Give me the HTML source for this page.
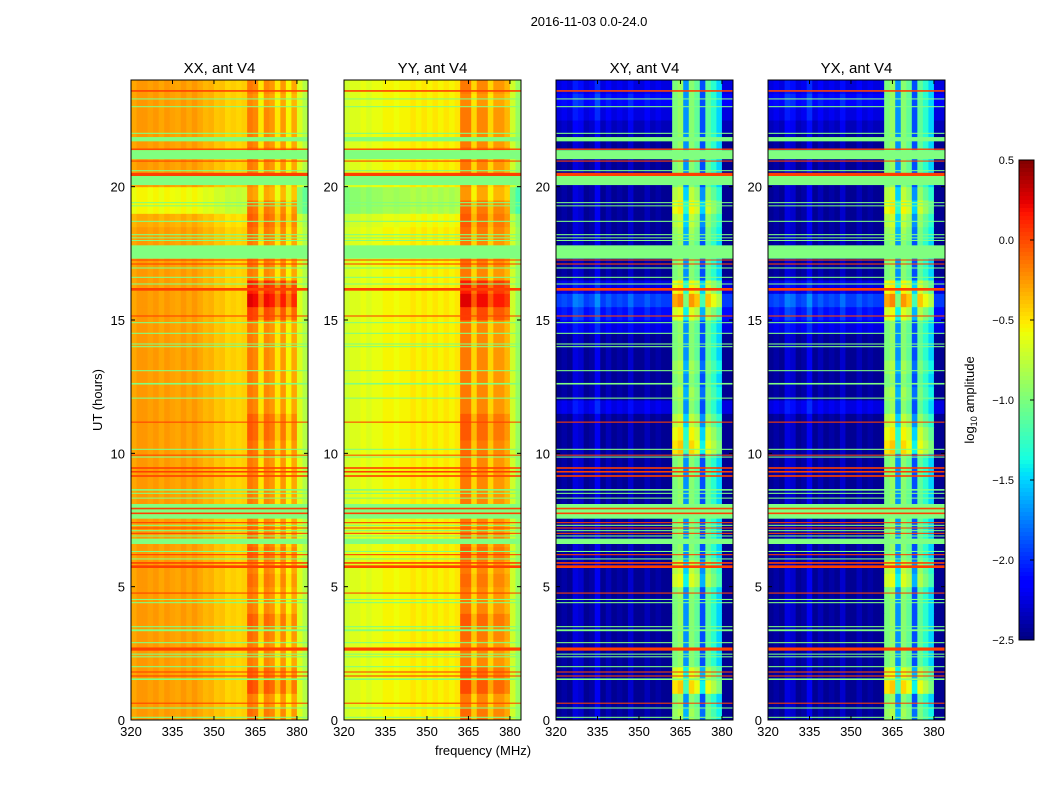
<!DOCTYPE html>
<html><head><meta charset="utf-8"><style>
body{margin:0;background:#fff;width:1050px;height:800px;overflow:hidden;font-family:"Liberation Sans",sans-serif;}
svg text{font-family:"Liberation Sans",sans-serif;}
</style></head><body>
<svg id="fig" width="1050" height="800" xmlns="http://www.w3.org/2000/svg">
<text x="589" y="26" font-size="13" text-anchor="middle">2016-11-03 0.0-24.0</text>
<text x="0" y="0" font-size="13" text-anchor="middle" transform="translate(102,400) rotate(-90)">UT (hours)</text>
<text x="483" y="755" font-size="13" text-anchor="middle">frequency (MHz)</text>
<text font-size="13" text-anchor="middle" transform="translate(974,400) rotate(-90)">log<tspan font-size="9" dy="3">10</tspan><tspan dy="-3"> amplitude</tspan></text>
<g id="panels"></g>
<g id="cbar"></g>
</svg>
<script>
const panelTitles = ["XX, ant V4","YY, ant V4","XY, ant V4","YX, ant V4"];
const xTicks = [320,335,350,365,380];
const yTicks = [0,5,10,15,20];
const cbarTicks = [0.5,0.0,-0.5,-1.0,-1.5,-2.0,-2.5];
const cbarTickLabels = ["0.5","0.0","\u22120.5","\u22121.0","\u22121.5","\u22122.0","\u22122.5"];
// column values (2 MHz bins from 320 to 384)
const colsXX = [-0.3,-0.25,-0.25,-0.28,-0.25,-0.3,-0.25,-0.28,-0.3,-0.25,-0.3,-0.25,-0.3,-0.35,-0.33,-0.4,-0.38,-0.45,-0.42,-0.45,-0.42,-0.15,-0.2,-0.5,-0.2,-0.25,-0.5,-0.25,-0.55,-0.3,-0.65,-0.8];
const colsYY = [-0.7,-0.65,-0.65,-0.6,-0.65,-0.6,-0.6,-0.55,-0.55,-0.58,-0.55,-0.55,-0.5,-0.55,-0.5,-0.55,-0.5,-0.55,-0.5,-0.55,-0.5,-0.15,-0.15,-0.45,-0.2,-0.2,-0.45,-0.25,-0.25,-0.35,-0.7,-0.9];
const colsXY = [-2.45,-2.4,-2.45,-2.25,-2.3,-2.45,-2.4,-2.2,-2.45,-2.35,-2.45,-2.4,-2.45,-2.3,-2.45,-2.45,-2.35,-2.45,-2.4,-2.45,-2.45,-1.0,-0.9,-1.7,-0.95,-1.1,-1.9,-1.1,-1.3,-1.5,-2.45,-2.45];
const colsYX = [-2.45,-2.4,-2.45,-2.25,-2.3,-2.45,-2.4,-2.2,-2.45,-2.35,-2.45,-2.4,-2.45,-2.3,-2.45,-2.45,-2.35,-2.45,-2.4,-2.45,-2.45,-1.0,-0.9,-1.7,-0.95,-1.1,-1.9,-1.1,-1.3,-1.5,-2.45,-2.45];
// row offsets (half-hour rows from 0 to 24h): band = applied to RFI band bins, base = others
const rowBandPar = [0.05,0,0.15,0.1,0,0,0.05,0.1,0,0,0.05,0,0.1,0.05,0,0,0,0,0,0,0.05,0.1,0.1,0,0,0,0,0,0,0,0.2,0.4,0.3,0,0.05,0,0.05,0.1,0.05,-0.1,-0.05,0,0.05,0,0,0,-0.05,0];
const rowBasePar = [0,0,0,0,0,0,0,0,0,0,0,0,0,0,0,0,0,0,0,0,0,0,0,0,0,0,0,0,0,0,0,0,0,0,0,0,0,-0.05,-0.3,-0.3,0,0,0,0,0,0,0,0];
const rowBandCross = [0.1,0,0.5,0.3,0,0,0,0,0,0,0.3,0.2,0,0,0,0,0,0,0,0,0.5,0.4,0.2,0,0.1,0,0.1,0,0,0,0.3,0.7,0.4,0,0,0,0.1,0.2,0.4,0.2,0,0,0,0,0,0,0,0];
const rowBaseCross = [0,0,0,0,0,0,0,0,0,0,0,0,0,0,0,0,0,0,0,0,0,0,0,0.2,0,0,0,0,0,0.2,0.35,0.5,0.2,0,0,0,0,0,0,0,0,0,0,0,0.1,0.2,0.3,0.2];
// flagged time ranges [start hour, end hour, type]
const flags = [[23.56,23.62,'r'],[23.27,23.31,'g'],[22.98,23.02,'g'],[21.98,22.02,'g'],[21.7,21.86,'g'],[21.38,21.43,'r'],[21.03,21.37,'g'],[20.94,20.98,'r'],[20.58,20.62,'g'],[20.4,20.52,'r'],[20.06,20.4,'g'],[19.38,19.42,'g'],[19.27,19.3,'g'],[18.68,18.72,'g'],[18.18,18.22,'g'],[18.07,18.1,'g'],[17.97,18.0,'g'],[17.3,17.8,'g'],[17.23,17.27,'r'],[17.08,17.12,'r'],[16.93,16.97,'g'],[16.58,16.62,'g'],[16.33,16.37,'g'],[16.1,16.2,'r'],[15.13,15.17,'r'],[14.88,14.92,'g'],[14.48,14.52,'g'],[14.08,14.12,'g'],[13.98,14.02,'g'],[13.08,13.12,'g'],[12.58,12.64,'g'],[12.05,12.09,'g'],[11.15,11.19,'r'],[10.13,10.17,'g'],[9.92,9.95,'r'],[9.84,9.88,'g'],[9.42,9.48,'r'],[9.28,9.34,'r'],[9.12,9.18,'r'],[8.6,8.66,'g'],[8.48,8.52,'g'],[8.3,8.34,'g'],[7.55,8.1,'g'],[7.9,7.96,'r'],[7.72,7.78,'r'],[7.38,7.42,'r'],[7.28,7.32,'g'],[7.18,7.22,'r'],[7.08,7.12,'g'],[6.98,7.02,'r'],[6.88,6.92,'g'],[6.6,6.8,'g'],[6.3,6.34,'g'],[6.18,6.22,'r'],[6.02,6.06,'g'],[5.86,5.92,'r'],[5.7,5.8,'r'],[4.74,4.78,'r'],[4.5,4.54,'g'],[4.38,4.42,'g'],[3.48,3.52,'g'],[3.33,3.4,'g'],[2.88,2.92,'g'],[2.6,2.72,'r'],[2.45,2.49,'g'],[2.35,2.39,'g'],[1.98,2.02,'g'],[1.78,1.82,'r'],[1.63,1.67,'r'],[1.5,1.56,'g'],[0.61,0.65,'r'],[0.43,0.47,'g'],[0.08,0.12,'g']];
const panelCols = [colsXX,colsYY,colsXY,colsYX];
const panelRowBand = [rowBandPar,rowBandPar,rowBandCross,rowBandCross];
const panelRowBase = [rowBasePar,rowBasePar,rowBaseCross,rowBaseCross];

const NS="http://www.w3.org/2000/svg";
const lefts=[131,344,556,768], W=177, TOP=80, H=640;
const vmin=-2.5,vmax=0.5, fmin=320,fmax=384, tmax=24;
function interp(pts,t){for(let i=1;i<pts.length;i++){if(t<=pts[i][0]){const a=pts[i-1],b=pts[i];return a[1]+(b[1]-a[1])*(t-a[0])/(b[0]-a[0]);}}return pts[pts.length-1][1];}
const JR=[[0,0],[0.35,0],[0.66,1],[0.89,1],[1,0.5]];
const JG=[[0,0],[0.125,0],[0.375,1],[0.64,1],[0.91,0],[1,0]];
const JB=[[0,0.5],[0.11,1],[0.34,1],[0.65,0],[1,0]];
function jet(v){let t=(v-vmin)/(vmax-vmin);t=Math.max(0,Math.min(1,t));
 const c=x=>Math.round(255*Math.max(0,Math.min(1,x)));
 return `rgb(${c(interp(JR,t))},${c(interp(JG,t))},${c(interp(JB,t))})`;}
function mk(tag,attrs,parent){const e=document.createElementNS(NS,tag);for(const k in attrs)e.setAttribute(k,attrs[k]);parent.appendChild(e);return e;}
const root=document.getElementById('panels');
panelTitles.forEach((title,p)=>{
 const L=lefts[p];
 const xs=f=>L+(f-fmin)/(fmax-fmin)*W;
 const ys=h=>TOP+H-h/tmax*H;
 const g=mk('g',{},root);
 
 
 const cols=panelCols[p], rb=panelRowBand[p], rs=panelRowBase[p];
 const nC=cols.length,nR=rb.length,df=(fmax-fmin)/nC,dh=tmax/nR;
 for(let r=0;r<nR;r++){for(let c=0;c<nC;c++){
   const band=c>=21&&c<=29;
   const v=cols[c]+(band?rb[r]:rs[r]);
   const x0=xs(fmin+c*df),x1=xs(fmin+(c+1)*df),y0=ys((r+1)*dh),y1=ys(r*dh);
   const e=mk('rect',{x:x0,y:y0,width:x1-x0+0.5,height:y1-y0+0.5,fill:jet(v)},g);
   
   
 }}
 flags.forEach(fl=>{
   const y0=ys(fl[1]),y1=ys(fl[0]);
   const e=mk('rect',{x:L,y:y0,width:W,height:Math.max(1,y1-y0),fill:fl[2]=='g'?'#80ff80':'#ff4000'},g);
   
   
 });
 mk('rect',{x:L,y:TOP,width:W,height:H,fill:'none',stroke:'#000','stroke-width':1},g);
 const t=mk('text',{x:L+W/2,y:TOP-7,'font-size':15,'text-anchor':'middle'},g);t.textContent=title;
 
 
 xTicks.forEach(f=>{const x=xs(f);
   mk('line',{x1:x,x2:x,y1:TOP+H,y2:TOP+H-4,stroke:'#000'},g);
   mk('line',{x1:x,x2:x,y1:TOP,y2:TOP+4,stroke:'#000'},g);
   const tl=mk('text',{x:x,y:TOP+H+16,'font-size':13,'text-anchor':'middle'},g);tl.textContent=f;
   
   
 });
 yTicks.forEach(h=>{const y=ys(h);
   mk('line',{x1:L,x2:L+4,y1:y,y2:y,stroke:'#000'},g);
   mk('line',{x1:L+W,x2:L+W-4,y1:y,y2:y,stroke:'#000'},g);
   const tl=mk('text',{x:L-6,y:y+5,'font-size':13,'text-anchor':'end'},g);tl.textContent=h;
   
   
 });
});
// colorbar
const cb=document.getElementById('cbar');
const CX=1019,CW=15,CT=160,CH=480;
const cy=v=>CT+(vmax-v)/(vmax-vmin)*CH;
for(let i=0;i<120;i++){const v=vmax-(i+0.5)*(vmax-vmin)/120;
 const e=mk('rect',{x:CX,y:CT+i*CH/120,width:CW,height:CH/120+0.5,fill:jet(v)},cb);
 
 }
mk('rect',{x:CX,y:CT,width:CW,height:CH,fill:'none',stroke:'#000'},cb);
cbarTicks.forEach((v,i)=>{const y=cy(v);
 mk('line',{x1:CX+CW-4,x2:CX+CW,y1:y,y2:y,stroke:'#000'},cb);
 const t=mk('text',{x:CX-5,y:y+4,'font-size':11,'text-anchor':'end'},cb);t.textContent=cbarTickLabels[i];
 
 });
</script>
</body></html>
